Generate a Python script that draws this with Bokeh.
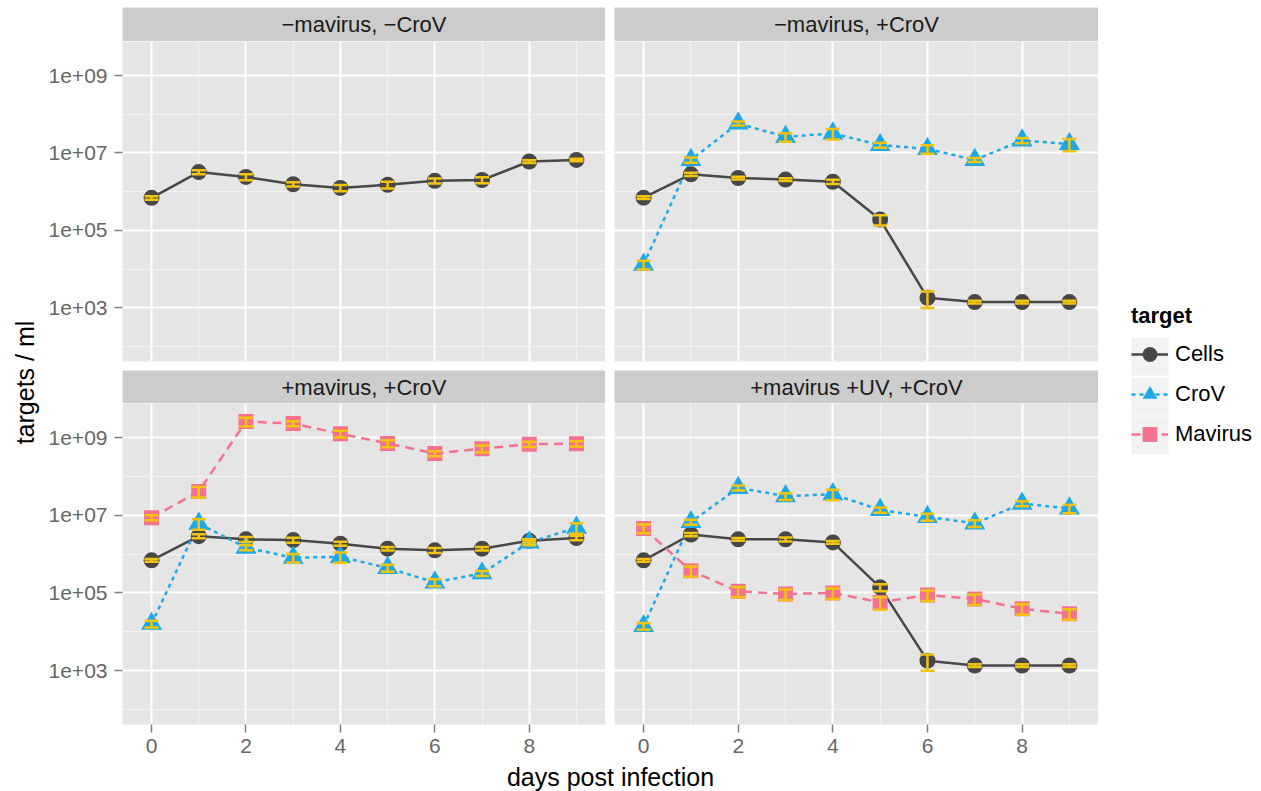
import math
from bokeh.plotting import figure
from bokeh.layouts import row, column
from bokeh.models import (Range1d, FixedTicker, CustomJSTickFormatter, ColumnDataSource,
                          Whisker, TeeHead, Legend, LegendItem)
from bokeh.core.properties import value
from bokeh.embed import file_html
from bokeh.resources import INLINE

# ---------------- data ----------------
days = [0, 1, 2, 3, 4, 5, 6, 7, 8, 9]
panel_titles = ["\u2212mavirus, \u2212CroV", "\u2212mavirus, +CroV",
                "+mavirus, +CroV", "+mavirus +UV, +CroV"]
series_names = ["Cells", "CroV", "Mavirus"]
x_tick_values = [0, 2, 4, 6, 8]
x_minor_values = [1, 3, 5, 7, 9]
y_tick_values = [1e3, 1e5, 1e7, 1e9]
y_minor_values = [1e2, 1e4, 1e6, 1e8]

# panel 1: -mavirus, -CroV
cells_1 = [6.9e5, 3.2e6, 2.4e6, 1.55e6, 1.25e6, 1.5e6, 1.9e6, 2.0e6, 6.0e6, 6.6e6]
cells_1_err = [0.10, 0.12, 0.18, 0.12, 0.18, 0.20, 0.15, 0.18, 0.08, 0.08]

# panel 2: -mavirus, +CroV
cells_2 = [7.0e5, 2.8e6, 2.25e6, 2.05e6, 1.8e6, 1.9e5, 1.8e3, 1.4e3, 1.4e3, 1.4e3]
cells_2_err = [0.08, 0.10, 0.08, 0.08, 0.12, 0.30, 0.45, 0.08, 0.08, 0.08]
crov_2 = [1.3e4, 6.6e6, 5.8e7, 2.6e7, 3.2e7, 1.6e7, 1.27e7, 6.6e6, 2.1e7, 1.7e7]
crov_2_err = [0.25, 0.15, 0.12, 0.25, 0.30, 0.15, 0.25, 0.12, 0.15, 0.35]

# panel 3: +mavirus, +CroV
cells_3 = [6.9e5, 2.9e6, 2.4e6, 2.3e6, 1.86e6, 1.38e6, 1.25e6, 1.38e6, 2.2e6, 2.6e6]
cells_3_err = [0.08, 0.12, 0.15, 0.15, 0.12, 0.10, 0.15, 0.10, 0.10, 0.12]
crov_3 = [1.6e4, 6.1e6, 1.47e6, 8.1e5, 8.5e5, 4.4e5, 1.87e5, 3.2e5, 2.0e6, 4.8e6]
crov_3_err = [0.20, 0.30, 0.15, 0.25, 0.30, 0.20, 0.20, 0.15, 0.15, 0.30]
mav_3 = [8.7e6, 4.1e7, 2.6e9, 2.3e9, 1.26e9, 7.1e8, 3.9e8, 5.2e8, 6.8e8, 7.0e8]
mav_3_err = [0.15, 0.30, 0.25, 0.15, 0.20, 0.20, 0.15, 0.20, 0.15, 0.15]

# panel 4: +mavirus +UV, +CroV
cells_4 = [6.9e5, 3.2e6, 2.4e6, 2.4e6, 2.0e6, 1.39e5, 1.8e3, 1.35e3, 1.35e3, 1.35e3]
cells_4_err = [0.08, 0.10, 0.08, 0.12, 0.08, 0.20, 0.45, 0.08, 0.08, 0.08]
crov_4 = [1.4e4, 6.7e6, 5.1e7, 3.1e7, 3.5e7, 1.37e7, 9.1e6, 6.2e6, 2.0e7, 1.5e7]
crov_4_err = [0.20, 0.15, 0.15, 0.20, 0.30, 0.15, 0.20, 0.20, 0.15, 0.25]
mav_4 = [4.6e6, 3.7e5, 1.1e5, 9.4e4, 1.0e5, 5.7e4, 8.9e4, 7.0e4, 3.9e4, 2.9e4]
mav_4_err = [0.25, 0.30, 0.30, 0.30, 0.30, 0.35, 0.30, 0.30, 0.30, 0.30]

panel_data = [
    [("Cells", cells_1, cells_1_err)],
    [("Cells", cells_2, cells_2_err), ("CroV", crov_2, crov_2_err)],
    [("Cells", cells_3, cells_3_err), ("CroV", crov_3, crov_3_err), ("Mavirus", mav_3, mav_3_err)],
    [("Cells", cells_4, cells_4_err), ("CroV", crov_4, crov_4_err), ("Mavirus", mav_4, mav_4_err)],
]

# ---------------- styles ----------------
FONT = "Liberation Sans"
STYLE = {
    "Cells": dict(color="#474747", dash="solid", marker="circle", size=16),
    "CroV": dict(color="#1fa8e6", dash="4 4", marker="triangle", size=21),
    "Mavirus": dict(color="#f3728f", dash="9 6", marker="square", size=15),
}
ERR_COLOR = "#f2c30f"
PANEL_BG = "#e5e5e5"
STRIP_BG = "#cccccc"
XR = (-0.615, 9.615)
YR = (10 ** 1.61, 10 ** 9.88)

LEFT_W, RIGHT_W = 565, 493
LEFT_B, RIGHT_B = 82, 9


def style_axis(ax, standoff):
    ax.axis_line_color = None
    ax.major_tick_line_color = "#7f7f7f"
    ax.major_tick_line_width = 1.5
    ax.major_tick_out = 8
    ax.major_tick_in = 0
    ax.minor_tick_line_color = None
    ax.major_label_text_font = FONT
    ax.major_label_text_font_size = "21px"
    ax.major_label_text_color = "#666666"
    ax.major_label_standoff = standoff


def make_panel(idx, width, min_left, height, min_bottom, show_x, show_y):
    p = figure(width=width, height=height,
               x_range=Range1d(*XR), y_range=Range1d(*YR), y_axis_type="log",
               x_axis_location="below" if show_x else None,
               y_axis_location="left" if show_y else None,
               output_backend="svg", toolbar_location=None, min_border=0)
    p.min_border_left = min_left
    p.min_border_bottom = min_bottom
    p.background_fill_color = PANEL_BG
    p.border_fill_color = "white"
    p.outline_line_color = None
    p.xgrid.ticker = FixedTicker(ticks=x_tick_values, minor_ticks=x_minor_values)
    p.ygrid.ticker = FixedTicker(ticks=y_tick_values, minor_ticks=y_minor_values)
    for g in list(p.xgrid) + list(p.ygrid):
        g.grid_line_color = "white"
        g.grid_line_width = 2
        g.minor_grid_line_color = "#f3f3f3"
        g.minor_grid_line_width = 1
    if show_x:
        ax = p.xaxis[0]
        ax.ticker = FixedTicker(ticks=x_tick_values)
        style_axis(ax, 6)
    if show_y:
        ay = p.yaxis[0]
        ay.ticker = FixedTicker(ticks=y_tick_values)
        ay.formatter = CustomJSTickFormatter(code="""
            const e = Math.round(Math.log10(tick));
            return "1e+" + (e < 10 ? "0" + e : "" + e);
        """)
        style_axis(ay, 7)

    sources = []
    for name, vals, errs in panel_data[idx]:
        src = ColumnDataSource(dict(
            x=days, y=vals,
            lo=[v * (1 - e) for v, e in zip(vals, errs)],
            hi=[v * (1 + e) for v, e in zip(vals, errs)]))
        sources.append((name, src))
    # ggplot layer order: lines, then points, then error bars
    for name, src in sources:
        st = STYLE[name]
        p.line("x", "y", source=src, line_color=st["color"], line_width=2.5,
               line_dash=st["dash"])
    for name, src in sources:
        st = STYLE[name]
        p.scatter("x", "y", source=src, marker=st["marker"], size=st["size"],
                  fill_color=st["color"], line_color=None)
    for name, src in sources:
        w = Whisker(source=src, base="x", upper="hi", lower="lo", dimension="height",
                    line_color=ERR_COLOR, line_width=2.5, level="annotation",
                    upper_head=TeeHead(size=14, line_color=ERR_COLOR, line_width=2.5),
                    lower_head=TeeHead(size=14, line_color=ERR_COLOR, line_width=2.5))
        p.add_layout(w)
    return p


def make_strip(idx, width, min_left, height, min_top):
    s = figure(width=width, height=height, x_range=Range1d(0, 1), y_range=Range1d(0, 1),
               x_axis_location=None, y_axis_location=None,
               output_backend="svg", toolbar_location=None, min_border=0)
    s.min_border_left = min_left
    s.min_border_top = min_top
    s.grid.visible = False
    s.background_fill_color = STRIP_BG
    s.border_fill_color = "white"
    s.outline_line_color = None
    s.text(x=[0.5], y=[0.5], text=[panel_titles[idx]], text_align="center",
           text_baseline="middle", text_font=value(FONT), text_font_size="22px",
           text_color="#1a1a1a")
    return s


strip1 = make_strip(0, LEFT_W, LEFT_B, 41, 7)
strip2 = make_strip(1, RIGHT_W, RIGHT_B, 41, 7)
panel1 = make_panel(0, LEFT_W, LEFT_B, 329, 9, False, True)
panel2 = make_panel(1, RIGHT_W, RIGHT_B, 329, 9, False, False)
strip3 = make_strip(2, LEFT_W, LEFT_B, 33, 0)
strip4 = make_strip(3, RIGHT_W, RIGHT_B, 33, 0)
panel3 = make_panel(2, LEFT_W, LEFT_B, 359, 38, True, True)
panel4 = make_panel(3, RIGHT_W, RIGHT_B, 359, 38, True, False)

# x-axis title
XT_H = 29
xt = figure(width=LEFT_W + RIGHT_W, height=XT_H, x_range=Range1d(0, LEFT_W + RIGHT_W),
            y_range=Range1d(0, XT_H), x_axis_location=None, y_axis_location=None,
            output_backend="svg", toolbar_location=None, min_border=0)
xt.grid.visible = False
xt.outline_line_color = None
xt.text(x=[570], y=[15], text=["days post infection"], text_align="center",
        text_baseline="middle", text_font=value(FONT), text_font_size="25px",
        text_color="black")

# y-axis title
yt = figure(width=40, height=791, x_range=Range1d(0, 40), y_range=Range1d(0, 791),
            x_axis_location=None, y_axis_location=None,
            output_backend="svg", toolbar_location=None, min_border=0)
yt.grid.visible = False
yt.outline_line_color = None
yt.text(x=[24], y=[409], text=["targets / ml"], angle=math.pi / 2, text_align="center",
        text_baseline="middle", text_font=value(FONT), text_font_size="25px",
        text_color="black")

# legend (keys drawn by off-canvas proxy renderers)
lf = figure(width=163, height=791, x_range=Range1d(0, 163), y_range=Range1d(0, 791),
            x_axis_location=None, y_axis_location=None,
            output_backend="svg", toolbar_location=None, min_border=0)
lf.grid.visible = False
lf.outline_line_color = None
lf.rect(x=[51.5, 51.5, 51.5], y=[435, 395, 356], width=37, height=38,
        fill_color="#f2f2f2", line_color=None)
proxy_x = [-500, -400]
proxy_y = [-500, -500]
items = []
for name in series_names:
    st = STYLE[name]
    lr = lf.line(x=proxy_x, y=proxy_y, line_color=st["color"], line_width=2.5,
                 line_dash=st["dash"])
    sr = lf.scatter(x=proxy_x, y=proxy_y, marker=st["marker"], size=st["size"],
                    fill_color=st["color"], line_color=None)
    items.append(LegendItem(label=name, renderers=[lr, sr]))
legend = Legend(items=items, location=(33, 338), title="target",
                title_text_font=FONT, title_text_font_style="bold",
                title_text_font_size="22px", title_text_color="black",
                label_text_font=FONT, label_text_font_size="22px",
                label_text_color="black",
                glyph_width=37, glyph_height=38, spacing=2, label_standoff=7,
                padding=0, margin=0, title_standoff=6,
                border_line_color=None, background_fill_alpha=0)
lf.add_layout(legend)

center = column(row(strip1, strip2), row(panel1, panel2), row(strip3, strip4),
                row(panel3, panel4), xt)
layout = row(yt, center, lf)

open("out.html", "w").write(file_html(layout, INLINE))
